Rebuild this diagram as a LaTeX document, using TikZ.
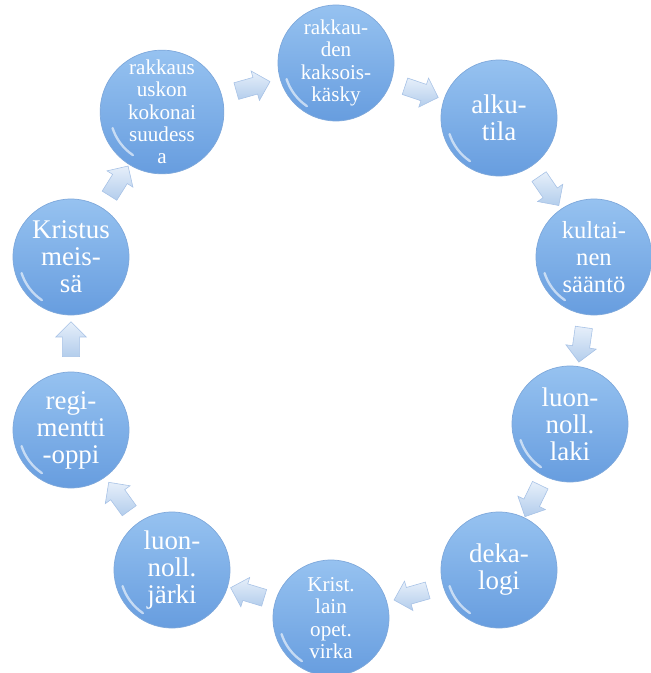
\documentclass[tikz,border=0pt]{standalone}
\usepackage{fontspec}
\setmainfont{Liberation Serif}
\usetikzlibrary{shapes.arrows,calc}
\definecolor{balltop}{HTML}{96C2F0}
\definecolor{ballbottom}{HTML}{679DDF}
\definecolor{ballrim}{HTML}{7EA8DB}
\definecolor{arrowtop}{HTML}{E6EFFA}
\definecolor{arrowbottom}{HTML}{B3CDEC}
\definecolor{arrowrim}{HTML}{A7C2E6}
\tikzset{
  ball/.style={
    circle, minimum size=3.48cm, inner sep=0pt,
    draw=ballrim, line width=.6pt,
    top color=balltop, bottom color=ballbottom,
    text=white, align=center,
    font={\fontsize{23}{23}\selectfont}
  },
  midball/.style={ball, font={\fontsize{21}{23}\selectfont}},
  smallball/.style={ball, font={\fontsize{18}{19}\selectfont}},
  gloss/.style={white, opacity=.6, line width=2pt, line cap=round},
  flowarrow/.style={
    single arrow, draw=arrowrim, line width=.5pt,
    top color=arrowtop, bottom color=arrowbottom,
    minimum height=1.05cm, inner sep=.25cm,
    single arrow head extend=.2cm
  }
}

\begin{document}
\begin{tikzpicture}[x=.03cm, y=-.03cm]
\useasboundingbox (0,0) rectangle (651,673);
\node[smallball] (rakkaus)    at (162,112) {rakkaus\\uskon\\kokonai\\suudess\\a};
\node[smallball] (kaksois)    at (336,63)  {rakkau-\\den\\kaksois-\\käsky};
\node[ball]      (alkutila)   at (499,118) {alku-\\tila};
\node[midball]   (saanto)     at (594,257) {kultai-\\nen\\sääntö};
\node[ball]      (laki)       at (570,424) {luon-\\noll.\\laki};
\node[ball]      (dekalogi)   at (499,570) {deka-\\logi};
\node[smallball] (virka)      at (331,618) {Krist.\\lain\\opet.\\virka};
\node[ball]      (jarki)      at (172,570) {luon-\\noll.\\järki};
\node[ball]      (regimentti) at (71,430)  {regi-\\mentti\\-oppi};
\node[ball]      (meissa)     at (71,257)  {Kristus\\meis-\\sä};
% glossy rim on the lower left of each ball
\foreach \n in {rakkaus,kaksois,alkutila,saanto,laki,dekalogi,virka,jarki,regimentti,meissa}
  \draw[gloss] (\n.center) ++(198:1.56cm) arc[start angle=198, end angle=236, radius=1.56cm];
% arrows half way between the balls
\foreach \a/\b in {rakkaus/kaksois, kaksois/alkutila, alkutila/saanto, saanto/laki,
                   laki/dekalogi, dekalogi/virka, virka/jarki, jarki/regimentti,
                   regimentti/meissa, meissa/rakkaus}
  \path let \p1=($(\b)-(\a)$), \n1={atan2(\y1,\x1)} in
    node[flowarrow, rotate=\n1] (\a-\b) at ($(\a)!.5!(\b)$) {};
\end{tikzpicture}
\end{document}
